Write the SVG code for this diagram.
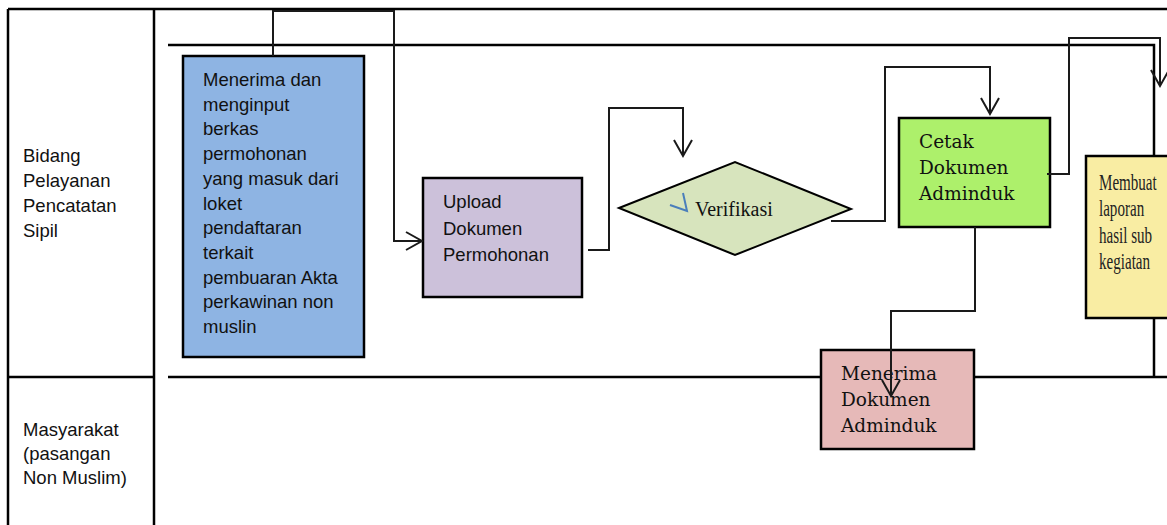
<svg xmlns="http://www.w3.org/2000/svg" width="1167" height="525" viewBox="0 0 1167 525">
<defs>
<style>
.frame{stroke:#000;stroke-width:2.5;fill:none}
.conn{stroke:#1a1a1a;stroke-width:2;fill:none;marker-end:url(#arr)}
.box{stroke:#000;stroke-width:2.5}
.sans{font-family:"Liberation Sans",Arial,sans-serif;font-size:18.5px;fill:#111}
.serif{font-family:"DejaVu Serif","Liberation Serif",serif;font-size:18.5px;fill:#111}
</style>
<marker id="arr" markerUnits="userSpaceOnUse" markerWidth="22" markerHeight="24" viewBox="0 0 22 24" refX="17" refY="10" orient="auto">
<path d="M1,1 L17,10 L1,19" fill="none" stroke="#1a1a1a" stroke-width="2"/>
</marker>
</defs>
<rect width="1167" height="525" fill="#fff"/>
<g id="table">
<path class="frame" d="M8,9 H1167 M8,9 V525 M154,9 V525 M8,377 H154"/>
<path class="frame" d="M168,45 H1154 V156 M1154,318 V377 M168,377 H1167"/>
<text class="sans" x="23" y="162">Bidang</text>
<text class="sans" x="23" y="187">Pelayanan</text>
<text class="sans" x="23" y="212">Pencatatan</text>
<text class="sans" x="23" y="237">Sipil</text>
<text class="sans" x="23" y="436">Masyarakat</text>
<text class="sans" x="23" y="460">(pasangan</text>
<text class="sans" x="23" y="484">Non Muslim)</text>
</g>
<g id="node-menerima-input">
<rect class="box" x="183" y="56" width="181" height="301" fill="#8EB4E3"/>
<text class="sans" x="203" y="86">Menerima dan</text>
<text class="sans" x="203" y="110.7">menginput</text>
<text class="sans" x="203" y="135.4">berkas</text>
<text class="sans" x="203" y="160.1">permohonan</text>
<text class="sans" x="203" y="184.8">yang masuk dari</text>
<text class="sans" x="203" y="209.5">loket</text>
<text class="sans" x="203" y="234.2">pendaftaran</text>
<text class="sans" x="203" y="258.9">terkait</text>
<text class="sans" x="203" y="283.6">pembuaran Akta</text>
<text class="sans" x="203" y="308.3">perkawinan non</text>
<text class="sans" x="203" y="333">muslin</text>
</g>
<g id="node-upload">
<rect class="box" x="423" y="178" width="159" height="119" fill="#CCC1DA"/>
<text class="sans" x="443" y="208">Upload</text>
<text class="sans" x="443" y="235">Dokumen</text>
<text class="sans" x="443" y="261">Permohonan</text>
</g>
<g id="node-verifikasi">
<polygon points="619,208 735,162 851,209 735,255" fill="#D7E4BD" stroke="#000" stroke-width="2"/>
<polyline points="670,205 687,211 683,193" fill="none" stroke="#4A7EBB" stroke-width="2"/>
<text x="695" y="216" font-family="Liberation Serif, serif" font-size="20" fill="#111">Verifikasi</text>
</g>
<g id="node-cetak">
<rect class="box" x="899" y="118" width="151" height="109" fill="#ADF06B"/>
<text class="serif" x="919" y="148">Cetak</text>
<text class="serif" x="919" y="174">Dokumen</text>
<text class="serif" x="919" y="200">Adminduk</text>
</g>
<g id="node-laporan">
<rect class="box" x="1086" y="156" width="90" height="162" fill="#F9EDA3"/>
<g font-family="Liberation Serif, serif" font-size="22.5" fill="#222" transform="translate(1099,0) scale(0.67,1)">
<text x="0" y="190">Membuat</text>
<text x="0" y="216.5">laporan</text>
<text x="0" y="243">hasil sub</text>
<text x="0" y="269.5">kegiatan</text>
</g>
</g>
<g id="node-menerima-dokumen">
<rect class="box" x="821" y="350" width="153" height="99" fill="#E6B9B8"/>
<text class="serif" x="841" y="380">Menerima</text>
<text class="serif" x="841" y="406">Dokumen</text>
<text class="serif" x="841" y="432">Adminduk</text>
</g>
<g id="connectors">
<path class="conn" d="M273,56 V11 H394 V241 H422"/>
<path class="conn" d="M588,250 H609 V108 H683 V156"/>
<path class="conn" d="M831,221 H885 V67 H990 V114"/>
<path class="conn" d="M1047,174 H1069 V38 H1160 V86"/>
<path class="conn" d="M975,227 V311 H891 V396"/>
</g>
</svg>
